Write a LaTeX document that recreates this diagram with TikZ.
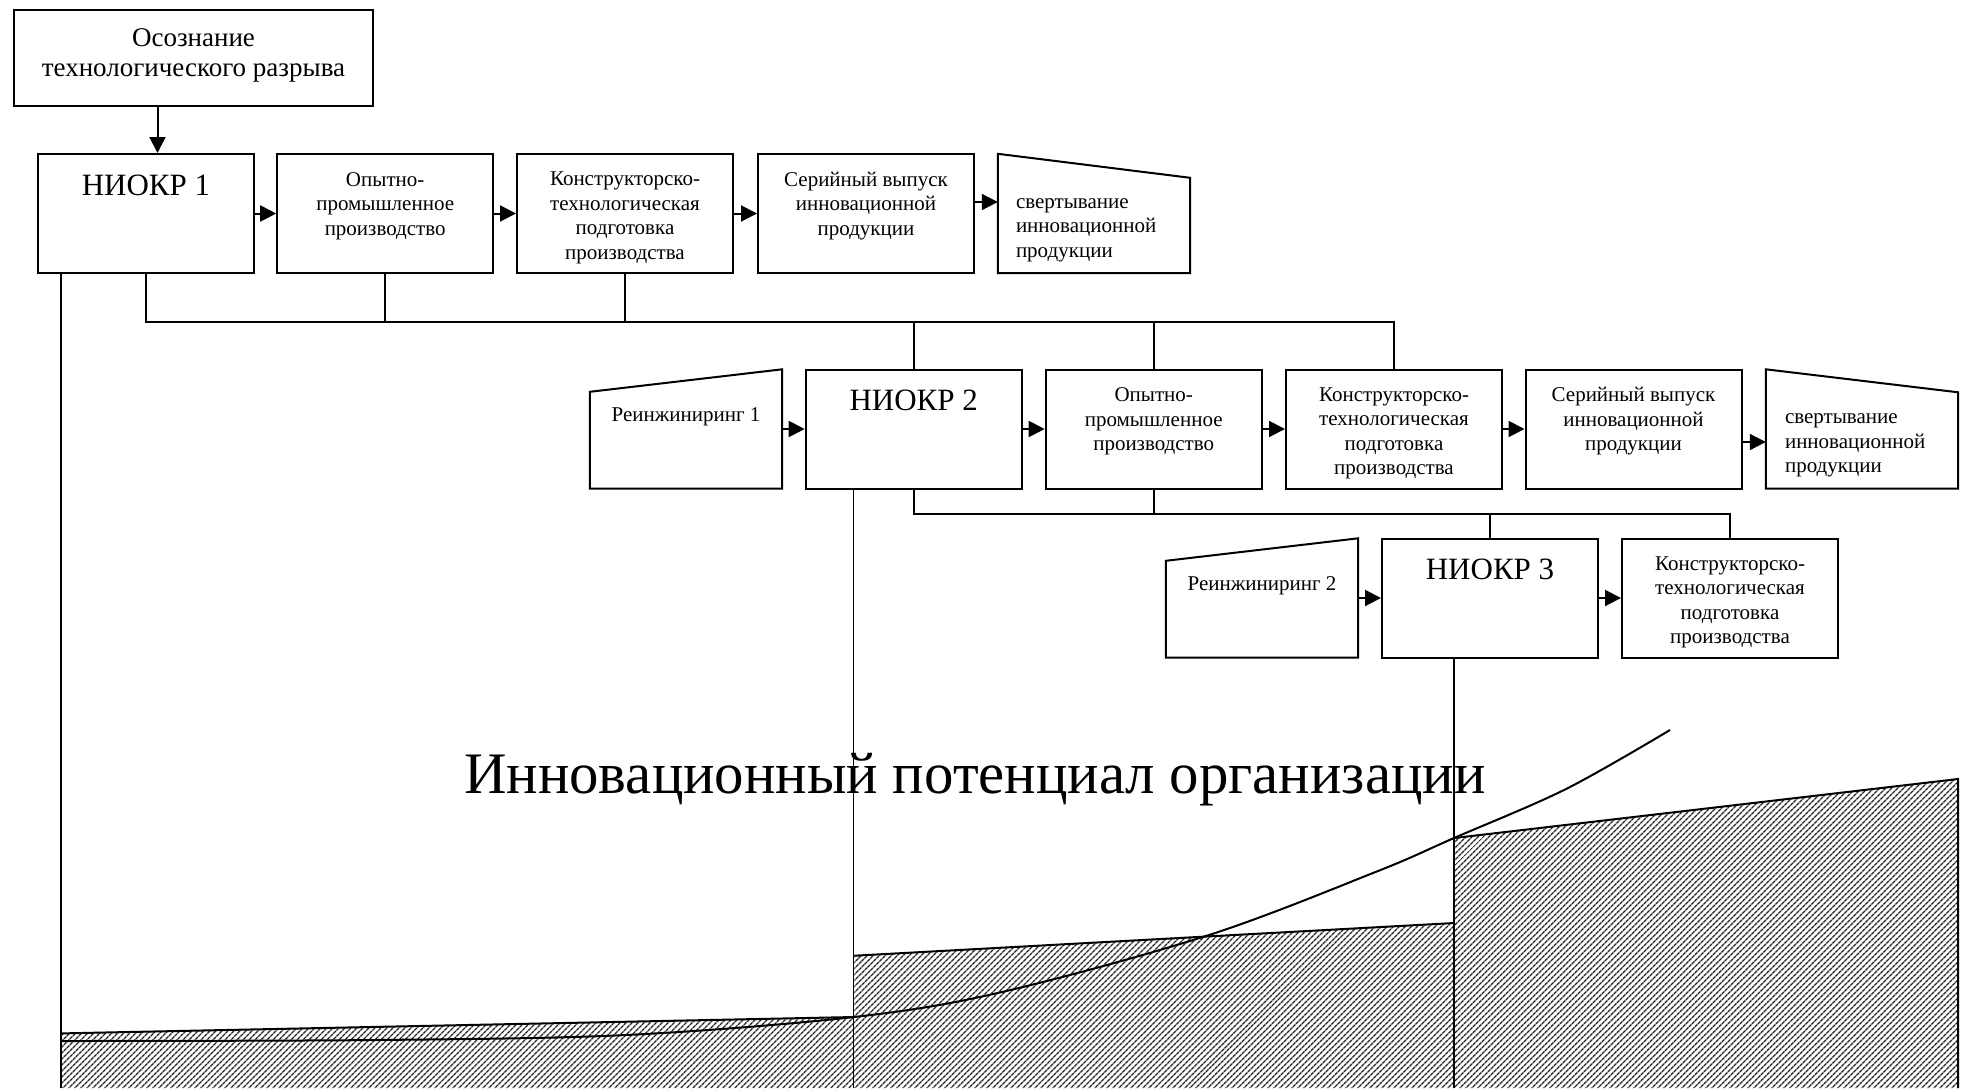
\documentclass[tikz,border=0pt]{standalone}
\usepackage{fontspec}
\setmainfont{Liberation Serif}
\usepackage{graphicx}
\usetikzlibrary{arrows.meta,patterns.meta,calc}
\begin{document}
\begin{tikzpicture}[x=1pt,y=-1pt,
  box/.style={draw, line width=2pt, minimum width=#1, minimum height=119pt, inner sep=0pt},
  ghost/.style={minimum width=#1, minimum height=119pt, inner sep=0pt},
  shapeline/.style={line width=2pt, line join=miter},
  small/.style={font=\fontsize{21}{24.5}\selectfont, align=center, inner sep=0pt},
  big/.style={font=\fontsize{31}{36}\selectfont, inner sep=0pt},
  arr/.style={line width=2pt, -{Triangle[length=16pt,width=16pt]}},
  bus/.style={line width=2pt},
  thinline/.style={line width=1.5pt},
  hatch/.style={pattern={Lines[angle=45,distance=4pt,line width=1.6pt]}, pattern color=black!85},
]
\useasboundingbox (0,0) rectangle (1964,1088);
\fill[white] (0,0) rectangle (1964,1088);

% hatched regions
\coordinate (bot) at (0,1088);
\fill[hatch] (61.4,1033.4) -- (854.3,1017) -- (854.3,1088) -- (61.4,1088) -- cycle;
\fill[hatch] (854.3,955.7) -- (1454.3,923) -- (1454.3,1088) -- (854.3,1088) -- cycle;
\fill[hatch] (1454.3,838) -- (1958,779) -- (1958,1088) -- (1454.3,1088) -- cycle;
\draw[line width=2pt] (61.4,1033.4) -- (854.3,1017);
\draw[line width=2pt] (854.3,955.7) -- (1454.3,923);
\draw[line width=2pt] (1454.3,838) -- (1958,779) -- (1958,1088);

% top box
\node[draw, line width=2pt, minimum width=359pt, minimum height=96pt, inner sep=0pt] (top) at (193.5,58) {};
\node[font=\fontsize{27}{29.5}\selectfont, align=center, inner sep=0pt] (ttop) at ([yshift=2.5pt]top.center)
      {Осознание\\технологического разрыва};

% row 1
\node[box=216] (n1) at (146,213.5) {};
\node[box=216] (o1) at (385.2,213.5) {};
\node[box=216] (k1) at (625,213.5) {};
\node[box=216] (s1) at (866,213.5) {};
\node[ghost=192] (v1) at (1094,213.5) {};
\draw[shapeline] (v1.south west) -- (v1.north west) -- ([yshift=-24pt]v1.north east) -- (v1.south east) -- cycle;

\node[big] (tn1) at ([yshift=-32pt]n1.north) {НИОКР 1};
\node[small] (to1) at ([yshift=-53pt]o1.north) {Опытно-\\промышленное\\производство};
\node[small] (tk1) at ([yshift=-65pt]k1.north) {Конструкторско-\\технологическая\\подготовка\\производства};
\node[small] (ts1) at ([yshift=-53pt]s1.north) {Серийный выпуск\\инновационной\\продукции};
\node[small, align=left, anchor=west] (tv1) at ([xshift=18pt,yshift=-76.5pt]v1.north west) {свертывание\\инновационной\\продукции};

% row 2
\node[ghost=192] (r1) at (686,429) {};
\draw[shapeline] ([yshift=-22.5pt]r1.north west) -- (r1.north east) -- (r1.south east) -- (r1.south west) -- cycle;
\node[box=216] (n2) at (913.7,429) {};
\node[box=216] (o2) at (1153.7,429) {};
\node[box=216] (k2) at (1394,429) {};
\node[box=216] (s2) at (1633.5,429) {};
\node[ghost=192] (v2) at (1862,429) {};
\draw[shapeline] (v2.south west) -- (v2.north west) -- ([yshift=-23pt]v2.north east) -- (v2.south east) -- cycle;

\node[small] (tr1) at ([yshift=-47.5pt]r1.north) {Реинжиниринг 1};
\node[big] (tn2) at ([yshift=-32pt]n2.north) {НИОКР 2};
\node[small] (to2) at ([yshift=-53pt]o2.north) {Опытно-\\промышленное\\производство};
\node[small] (tk2) at ([yshift=-65pt]k2.north) {Конструкторско-\\технологическая\\подготовка\\производства};
\node[small] (ts2) at ([yshift=-53pt]s2.north) {Серийный выпуск\\инновационной\\продукции};
\node[small, align=left, anchor=west] (tv2) at ([xshift=19pt,yshift=-76.5pt]v2.north west) {свертывание\\инновационной\\продукции};

% row 3
\node[ghost=192] (r2) at (1262,598) {};
\draw[shapeline] ([yshift=-22.5pt]r2.north west) -- (r2.north east) -- (r2.south east) -- (r2.south west) -- cycle;
\node[box=216] (n3) at (1490,598) {};
\node[box=216] (k3) at (1730,598) {};

\node[small] (tr2) at ([yshift=-47.5pt]r2.north) {Реинжиниринг 2};
\node[big] (tn3) at ([yshift=-32pt]n3.north) {НИОКР 3};
\node[small] (tk3) at ([yshift=-65pt]k3.north) {Конструкторско-\\технологическая\\подготовка\\производства};

% arrows
\draw[arr] ([xshift=-36pt]top.south) -- ([xshift=-36pt]top.south |- n1.north);
\draw[arr] (n1.east) -- (o1.west);
\draw[arr] (o1.east) -- (k1.west);
\draw[arr] (k1.east) -- (s1.west);
\draw[arr] ([yshift=11.5pt]s1.east) -- ([yshift=11.5pt]v1.west);
\draw[arr] (r1.east) -- (n2.west);
\draw[arr] (n2.east) -- (o2.west);
\draw[arr] (o2.east) -- (k2.west);
\draw[arr] (k2.east) -- (s2.west);
\draw[arr] ([yshift=-13pt]s2.east) -- ([yshift=-13pt]v2.west);
\draw[arr] (r2.east) -- (n3.west);
\draw[arr] (n3.east) -- (k3.west);

% buses
\coordinate (b1) at (0,322);
\coordinate (b2) at (0,513.6);
\draw[bus] (n1.south) -- (n1.south |- b1) -- (k2.north |- b1) -- (k2.north);
\draw[bus] (o1.south) -- (o1.south |- b1);
\draw[bus] (k1.south) -- (k1.south |- b1);
\draw[bus] (n2.north) -- (n2.north |- b1);
\draw[bus] (o2.north) -- (o2.north |- b1);
\draw[bus] (n2.south) -- (n2.south |- b2) -- (k3.north |- b2) -- (k3.north);
\draw[bus] (o2.south) -- (o2.south |- b2);
\draw[bus] (n3.north) -- (n3.north |- b2);

% long verticals
\draw[thinline] ([xshift=24pt]n1.south west) -- ([xshift=24pt]n1.south west |- bot);
\draw[thinline] ([xshift=49pt]n2.south west) -- ([xshift=49pt]n2.south west |- bot);
\draw[thinline] ([xshift=73pt]n3.south west) -- ([xshift=73pt]n3.south west |- bot);

% curve
\draw[line width=2pt] plot[smooth, tension=0.55] coordinates {(61.4,1041) (376,1040) (626,1035) (854,1017) (1002,992) (1209,935) (1378,871) (1454,838) (1566,789) (1670,730)};

% label
\node[font=\fontsize{58.8}{62}\selectfont, anchor=base west, inner sep=0pt] (lab) at (464,793) {Инновационный потенциал организации};
\end{tikzpicture}
\end{document}
